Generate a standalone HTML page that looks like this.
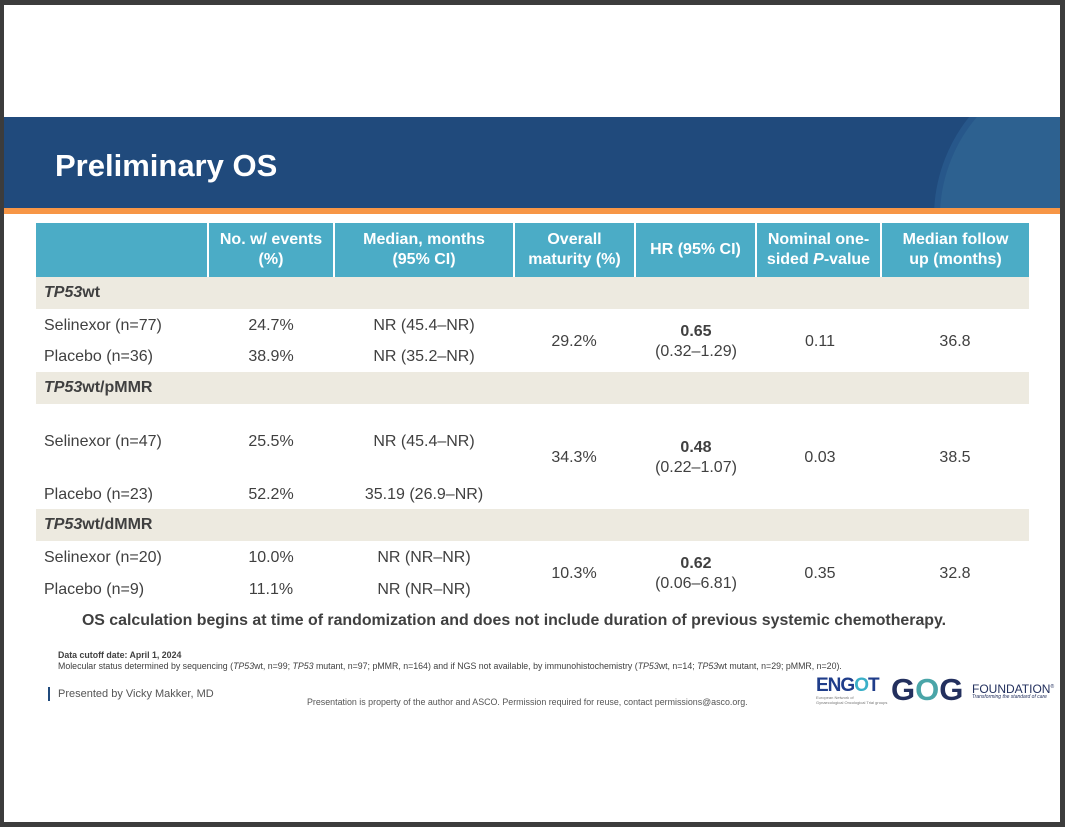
<!DOCTYPE html>
<html><head><meta charset="utf-8"><style>
*{margin:0;padding:0;box-sizing:border-box}
body{width:1065px;height:827px;background:#3c3c3c;position:relative;overflow:hidden;font-family:"Liberation Sans",Arial,sans-serif;color:#404040}
.page{position:absolute;left:4px;top:5px;width:1056px;height:817px;background:#fff;overflow:hidden}
.t{position:absolute;white-space:nowrap;font-size:16px;line-height:18px}
.c{transform:translateX(-50%);text-align:center}
.hd{position:absolute;top:223px;height:54px;background:#4bacc6;color:#fff;font-weight:bold;font-size:16px;line-height:20px;display:flex;align-items:center;justify-content:center;text-align:center}
.bg{position:absolute;left:36px;width:993px;height:32px;background:#edeae0}
</style></head><body>
<div class="page">
<div style="position:absolute;left:0;top:112px;width:1056px;height:91px;background:#204a7c;overflow:hidden">
<div style="position:absolute;left:930px;top:-60px;width:320px;height:320px;border-radius:50%;background:#2d6190;border:6px solid #27578a"></div>
</div>
<div style="position:absolute;left:0;top:203px;width:1056px;height:6px;background:#f79646"></div>
<div class="t" style="left:51px;top:144px;font-size:31px;line-height:34px;color:#fff;font-weight:bold">Preliminary OS</div>
</div>
<div class="hd" style="left:36px;width:171px"></div>
<div class="hd" style="left:209px;width:124px"><div>No. w/ events<br>(%)</div></div>
<div class="hd" style="left:335px;width:178px"><div>Median, months<br>(95% CI)</div></div>
<div class="hd" style="left:515px;width:119px"><div>Overall<br>maturity (%)</div></div>
<div class="hd" style="left:636px;width:119px"><div>HR (95% CI)</div></div>
<div class="hd" style="left:757px;width:123px"><div>Nominal one-<br>sided <i>P</i>-value</div></div>
<div class="hd" style="left:882px;width:147px"><div>Median follow<br>up (months)</div></div>
<div class="bg" style="top:277px"></div>
<div class="bg" style="top:372px"></div>
<div class="bg" style="top:509px"></div>
<div class="t" style="left:44px;top:284px;font-weight:bold"><i>TP53</i>wt</div>
<div class="t" style="left:44px;top:379px;font-weight:bold"><i>TP53</i>wt/pMMR</div>
<div class="t" style="left:44px;top:516px;font-weight:bold"><i>TP53</i>wt/dMMR</div>

<div class="t" style="left:44px;top:317px">Selinexor (n=77)</div>
<div class="t c" style="left:271px;top:317px">24.7%</div>
<div class="t c" style="left:424px;top:317px">NR (45.4–NR)</div>
<div class="t" style="left:44px;top:348px">Placebo (n=36)</div>
<div class="t c" style="left:271px;top:348px">38.9%</div>
<div class="t c" style="left:424px;top:348px">NR (35.2–NR)</div>
<div class="t c" style="left:574px;top:333px">29.2%</div>
<div class="t c" style="left:696px;top:323px;font-weight:bold">0.65</div>
<div class="t c" style="left:696px;top:343px">(0.32–1.29)</div>
<div class="t c" style="left:820px;top:333px">0.11</div>
<div class="t c" style="left:955px;top:333px">36.8</div>

<div class="t" style="left:44px;top:433px">Selinexor (n=47)</div>
<div class="t c" style="left:271px;top:433px">25.5%</div>
<div class="t c" style="left:424px;top:433px">NR (45.4–NR)</div>
<div class="t" style="left:44px;top:486px">Placebo (n=23)</div>
<div class="t c" style="left:271px;top:486px">52.2%</div>
<div class="t c" style="left:424px;top:486px">35.19 (26.9–NR)</div>
<div class="t c" style="left:574px;top:449px">34.3%</div>
<div class="t c" style="left:696px;top:439px;font-weight:bold">0.48</div>
<div class="t c" style="left:696px;top:459px">(0.22–1.07)</div>
<div class="t c" style="left:820px;top:449px">0.03</div>
<div class="t c" style="left:955px;top:449px">38.5</div>

<div class="t" style="left:44px;top:549px">Selinexor (n=20)</div>
<div class="t c" style="left:271px;top:549px">10.0%</div>
<div class="t c" style="left:424px;top:549px">NR (NR–NR)</div>
<div class="t" style="left:44px;top:581px">Placebo (n=9)</div>
<div class="t c" style="left:271px;top:581px">11.1%</div>
<div class="t c" style="left:424px;top:581px">NR (NR–NR)</div>
<div class="t c" style="left:574px;top:565px">10.3%</div>
<div class="t c" style="left:696px;top:555px;font-weight:bold">0.62</div>
<div class="t c" style="left:696px;top:575px">(0.06–6.81)</div>
<div class="t c" style="left:820px;top:565px">0.35</div>
<div class="t c" style="left:955px;top:565px">32.8</div>

<div class="t c" style="left:514px;top:612px;font-weight:bold;font-size:15.9px">OS calculation begins at time of randomization and does not include duration of previous systemic chemotherapy.</div>
<div class="t" style="left:58px;top:650px;font-size:8.8px;line-height:10px;font-weight:bold">Data cutoff date: April 1, 2024</div>
<div class="t" style="left:58px;top:661px;font-size:8.8px;line-height:10px">Molecular status determined by sequencing (<i>TP53</i>wt, n=99; <i>TP53</i> mutant, n=97; pMMR, n=164) and if NGS not available, by immunohistochemistry (<i>TP53</i>wt, n=14; <i>TP53</i>wt mutant, n=29; pMMR, n=20).</div>
<div style="position:absolute;left:48px;top:687px;width:2px;height:14px;background:#204a7c"></div>
<div class="t" style="left:58px;top:688px;font-size:11px;line-height:13px;color:#555">Presented by Vicky Makker, MD</div>
<div class="t" style="left:307px;top:697px;font-size:8.9px;line-height:10px;color:#555">Presentation is property of the author and ASCO. Permission required for reuse, contact permissions@asco.org.</div>
<div class="t" style="left:816px;top:675px;font-size:19px;line-height:22px;font-weight:bold;color:#1f3d8a;letter-spacing:-1px">ENG<span style="color:#3ab0c8">O</span>T</div>
<div class="t" style="left:816px;top:695px;font-size:4px;line-height:5px;color:#777">European Network of<br>Gynaecological Oncological Trial groups</div>
<div class="t" style="left:891px;top:673px;font-size:31px;line-height:34px;font-weight:bold;color:#23305e">G<span style="color:#4aa5a8">O</span>G</div>
<div class="t" style="left:972px;top:680px;font-size:12px;line-height:14px;color:#23305e">FOUNDATION<sup style="font-size:5px">®</sup></div>
<div class="t" style="left:972px;top:694px;font-size:5px;line-height:6px;color:#23305e;font-style:italic">Transforming the standard of care</div>
</body></html>
